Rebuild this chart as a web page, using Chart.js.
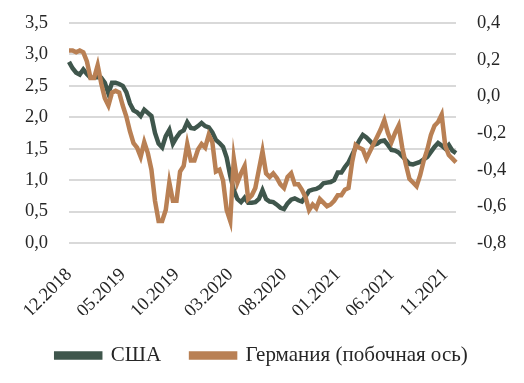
<!DOCTYPE html>
<html>
<head>
<meta charset="utf-8">
<script src="https://cdn.jsdelivr.net/npm/chart.js@4/dist/chart.umd.min.js"></script>
<style>
  html, body { margin: 0; padding: 0; background: #fff; }
  #wrap { width: 524px; height: 383px; }
</style>
</head>
<body>
<div id="wrap"><canvas id="yields"></canvas></div>
<script>
// ~3 observations per month, Dec 2018 - Dec 2021
const tickLabels = ['12.2018', '05.2019', '10.2019', '03.2020', '08.2020', '01.2021', '06.2021', '11.2021'];
const tickEvery = 15;

// 10Y USA, %  (left axis)
const usa = [
  2.88, 2.78, 2.71, 2.68, 2.76, 2.69, 2.63, 2.63, 2.64, 2.63,
  2.55, 2.38, 2.55, 2.55, 2.53, 2.50, 2.40, 2.22, 2.11, 2.08,
  2.02, 2.12, 2.07, 2.02, 1.75, 1.58, 1.52, 1.70, 1.80, 1.58,
  1.68, 1.76, 1.79, 1.92, 1.83, 1.82, 1.86, 1.91, 1.86, 1.84,
  1.76, 1.64, 1.59, 1.53, 1.36, 1.07, 0.84, 0.70, 0.65, 0.72,
  0.64, 0.64, 0.65, 0.70, 0.84, 0.70, 0.66, 0.65, 0.61, 0.56,
  0.54, 0.63, 0.69, 0.71, 0.68, 0.66, 0.74, 0.83, 0.85, 0.86,
  0.89, 0.95, 0.96, 0.97, 1.00, 1.12, 1.12, 1.21, 1.28, 1.40,
  1.52, 1.63, 1.72, 1.68, 1.62, 1.56, 1.58, 1.62, 1.63, 1.56,
  1.48, 1.47, 1.44, 1.38, 1.32, 1.26, 1.25, 1.27, 1.29, 1.33,
  1.37, 1.45, 1.53, 1.59, 1.55, 1.50, 1.56, 1.47, 1.43
];

// 10Y Germany, %  (right axis)
const germany = [
  0.25, 0.25, 0.24, 0.25, 0.24, 0.19, 0.10, 0.10, 0.17, 0.07,
  -0.01, -0.05, 0.02, 0.03, 0.02, -0.05, -0.11, -0.19, -0.255, -0.28,
  -0.33, -0.25, -0.31, -0.40, -0.57, -0.68, -0.68, -0.62, -0.47, -0.57,
  -0.57, -0.41, -0.38, -0.26, -0.35, -0.35, -0.29, -0.26, -0.28, -0.21,
  -0.25, -0.41, -0.40, -0.46, -0.62, -0.68, -0.34, -0.47, -0.42, -0.38,
  -0.56, -0.54, -0.50, -0.40, -0.30, -0.42, -0.44, -0.42, -0.445, -0.48,
  -0.50, -0.44, -0.42, -0.48, -0.48, -0.51, -0.55, -0.62, -0.59, -0.61,
  -0.56, -0.58, -0.60, -0.59, -0.57, -0.54, -0.54, -0.51, -0.50, -0.36,
  -0.265, -0.28, -0.29, -0.34, -0.30, -0.26, -0.22, -0.18, -0.13, -0.20,
  -0.25, -0.20, -0.16, -0.28, -0.37, -0.45, -0.47, -0.49, -0.43, -0.35,
  -0.29, -0.21, -0.16, -0.14, -0.10, -0.27, -0.32, -0.34, -0.36
];

const labels = usa.map(function (v, i) {
  return i % tickEvery === 0 ? (tickLabels[i / tickEvery] || '') : '';
});

function comma(v) {
  if (Math.abs(v) < 1e-9) v = 0;
  return v.toFixed(1).replace('.', ',');
}

const font = { family: "'Liberation Serif', 'Times New Roman', serif", size: 18.5 };
const legendFont = { family: "'Liberation Serif', 'Times New Roman', serif", size: 21 };
Chart.defaults.color = '#262626';

// fixed box sizes so the plot sits where the original one does
function fixY(w) {
  return function (scale) { scale.width = w; scale.paddingTop = 0; scale.paddingBottom = 0; };
}

new Chart(document.getElementById('yields').getContext('2d'), {
  type: 'line',
  data: {
    labels: labels,
    datasets: [
      {
        label: 'США',
        data: usa,
        yAxisID: 'y',
        borderColor: '#3f564c',
        backgroundColor: '#3f564c',
        borderWidth: 4.5,
        pointRadius: 0,
        tension: 0,
        order: 1
      },
      {
        label: 'Германия (побочная ось)',
        data: germany,
        yAxisID: 'y2',
        borderColor: '#b98054',
        backgroundColor: '#b98054',
        borderWidth: 4.5,
        pointRadius: 0,
        tension: 0,
        order: 0
      }
    ]
  },
  options: {
    responsive: true,
    maintainAspectRatio: false,
    animation: false,
    layout: { padding: { left: 0, right: 0, top: 23, bottom: 7 } },
    plugins: {
      tooltip: { enabled: false },
      legend: {
        position: 'bottom',
        labels: {
          font: legendFont,
          boxWidth: 44,
          boxHeight: 4,
          padding: 30,
          sort: function (a, b) { return a.datasetIndex - b.datasetIndex; }
        }
      }
    },
    scales: {
      x: {
        grid: { display: false },
        border: { display: false },
        afterFit: function (scale) { scale.height = 72; },
        ticks: {
          font: font,
          autoSkip: false,
          minRotation: 45,
          maxRotation: 45,
          padding: 13
        }
      },
      y: {
        position: 'left',
        min: 0,
        max: 3.5,
        border: { display: false },
        afterFit: fixY(69),
        grid: { color: '#d9d9d9', lineWidth: 2, drawTicks: false },
        ticks: {
          font: font,
          stepSize: 0.5,
          padding: 21,
          callback: function (v) { return comma(v); }
        }
      },
      y2: {
        position: 'right',
        min: -0.8,
        max: 0.4,
        border: { display: false },
        afterFit: fixY(68),
        grid: { display: false, drawTicks: false },
        ticks: {
          font: font,
          stepSize: 0.2,
          padding: 21,
          callback: function (v) { return comma(v); }
        }
      }
    }
  }
});
</script>
</body>
</html>
